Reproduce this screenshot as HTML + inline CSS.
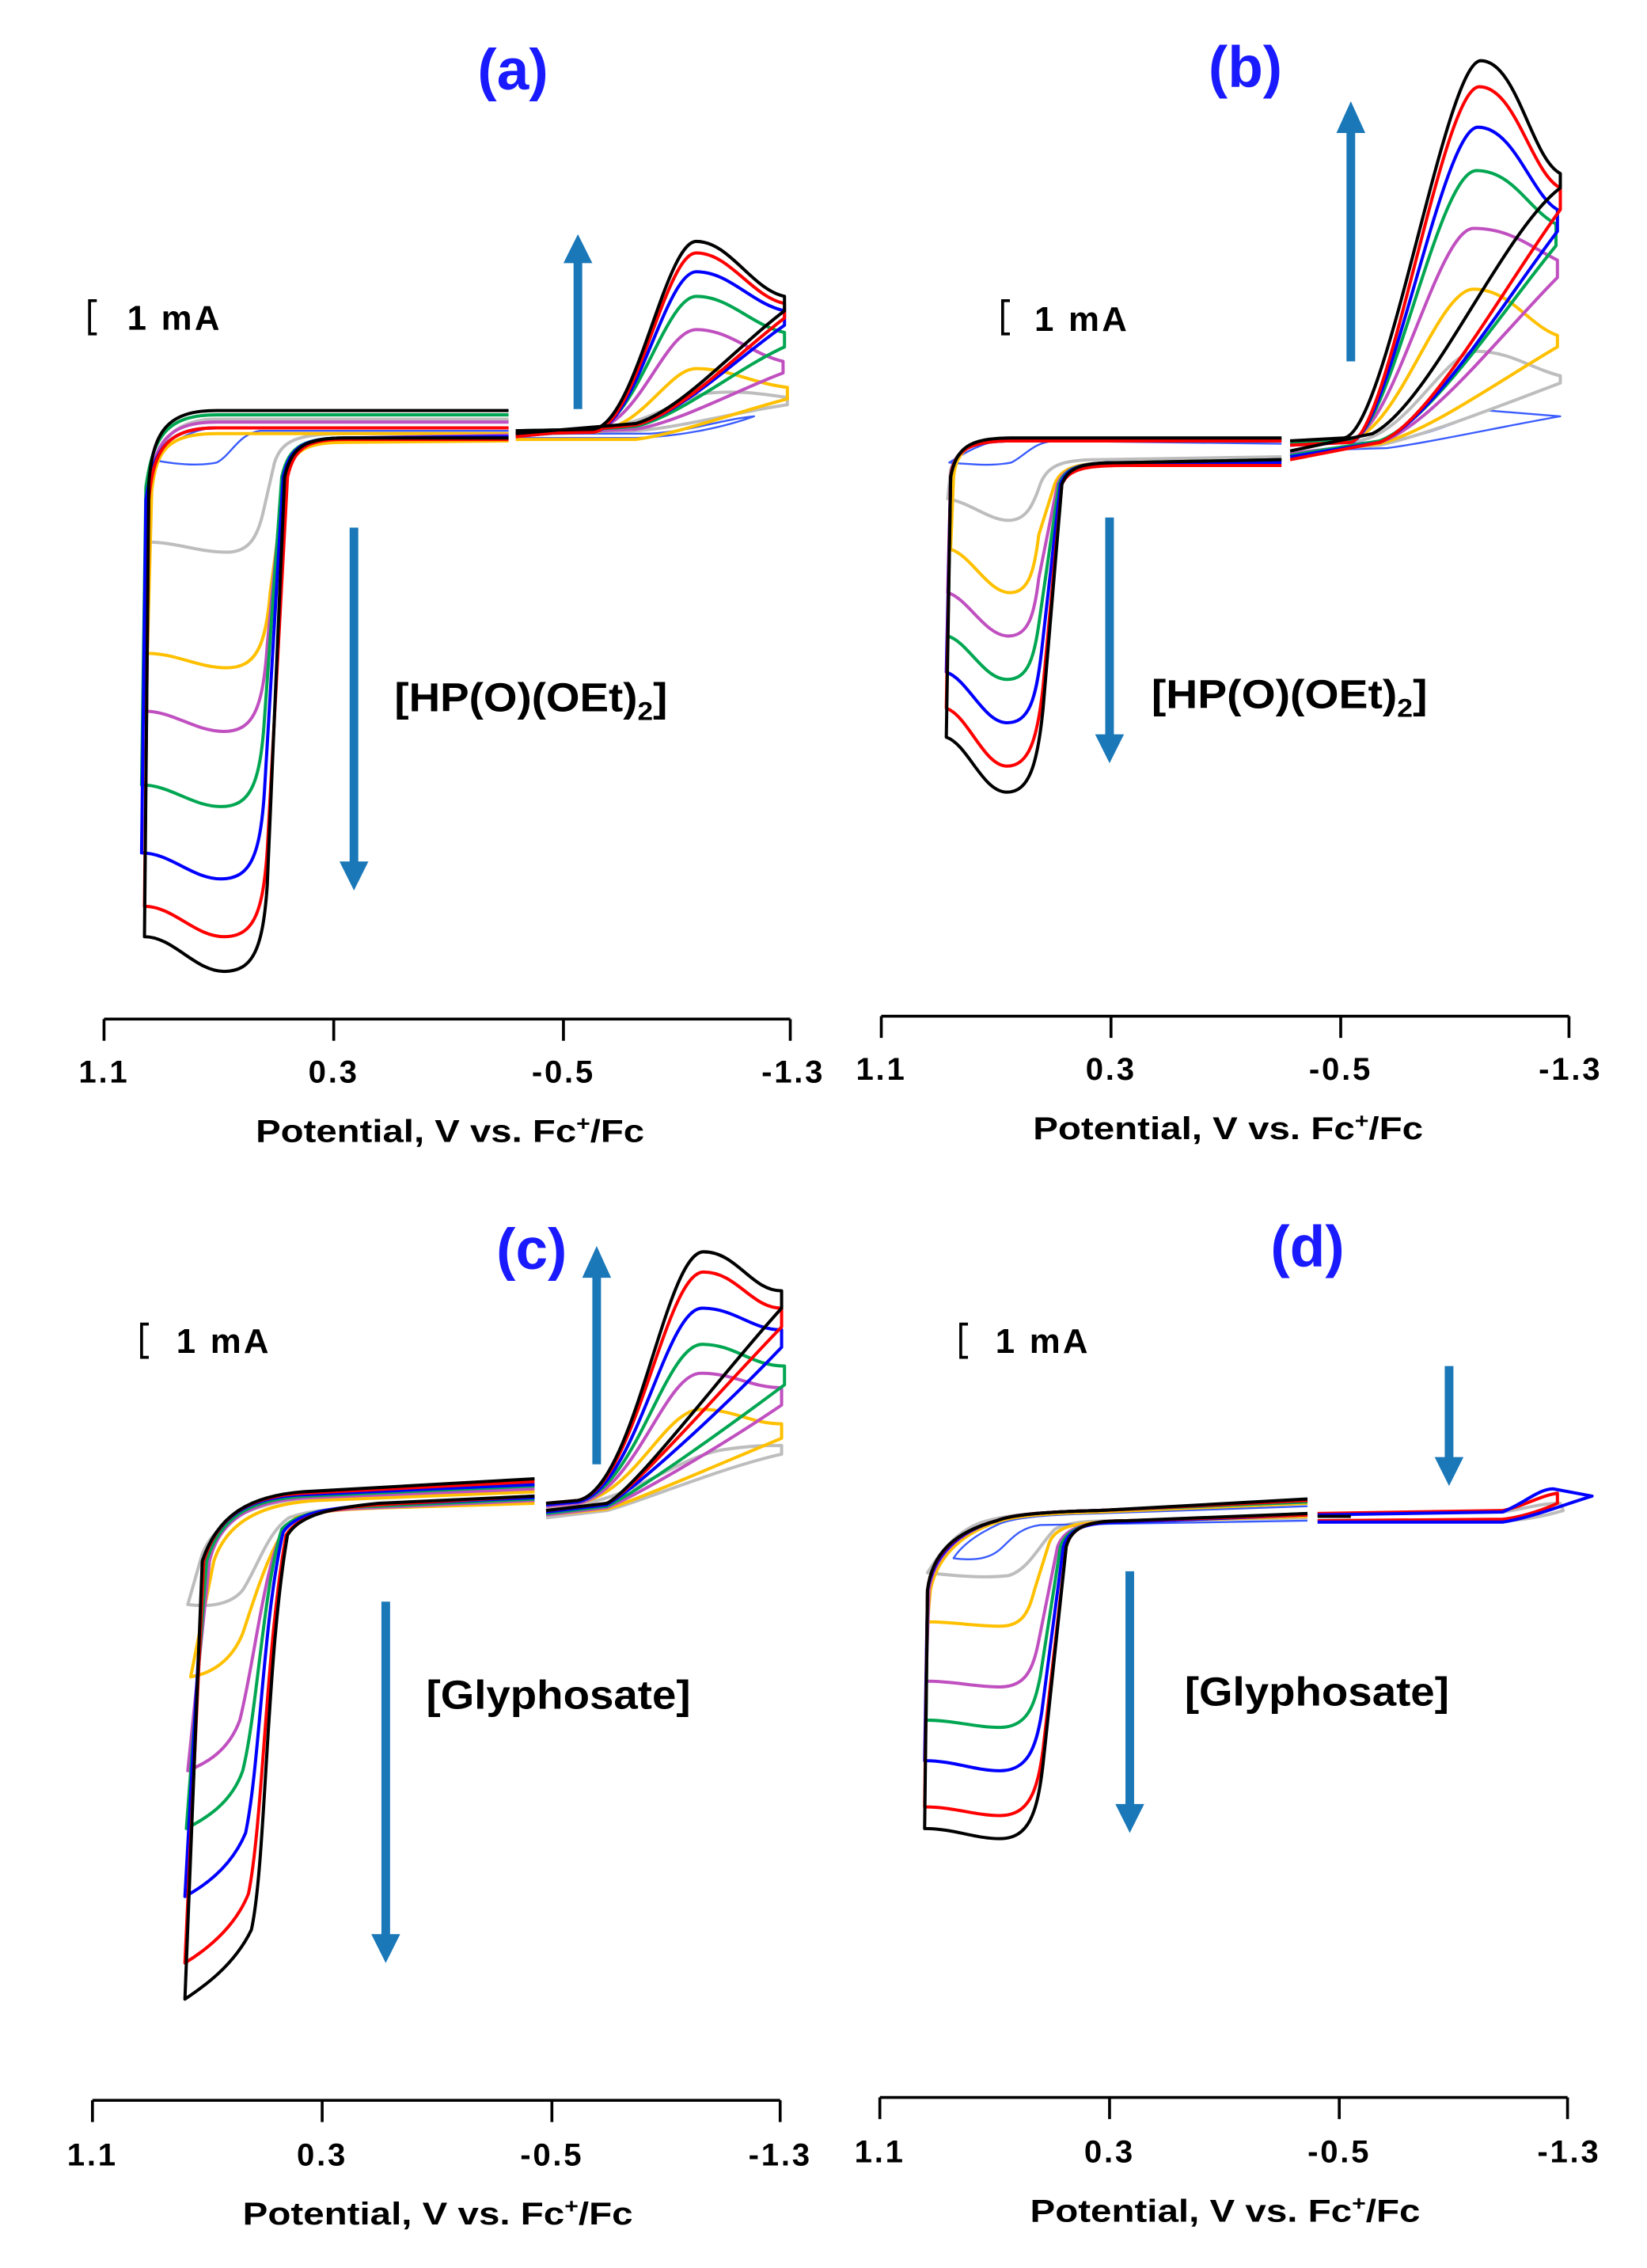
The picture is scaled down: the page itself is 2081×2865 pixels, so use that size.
<!DOCTYPE html>
<html><head><meta charset="utf-8"><style>
html,body{margin:0;padding:0;background:#fff;}
svg{display:block;}
text{font-family:"Liberation Sans",Arial,sans-serif;font-weight:bold;}
.c path{fill:none;stroke-width:2.2;stroke-linejoin:round;}
.k{stroke:#000}.r{stroke:#f00}.b{stroke:#00f}.g{stroke:#00a651}.p{stroke:#c050c0}.y{stroke:#ffc000}.s{stroke:#bdbdbd}.t{stroke:#3a5cff;stroke-width:1.3!important}
.ax{stroke:#000;stroke-width:2;fill:none}
.ar{stroke:#1a78b8;stroke-width:6}
.ah{fill:#1a78b8}
.tk{letter-spacing:1.5px}
</style></head><body>
<svg width="2081" height="2865" viewBox="0 0 1140 1569" preserveAspectRatio="none" xmlns="http://www.w3.org/2000/svg">
<rect width="1140" height="1569" fill="#fff"/>

<!-- ===== Panel a ===== -->
<text x="355" y="62" font-size="40" fill="#1a1aff" text-anchor="middle">(a)</text>
<path class="ax" d="M67,208 L62,208 L62,231 L67,231"/>
<text x="88" y="228" font-size="24" textLength="64">1 mA</text>
<text x="273" y="492" font-size="28" textLength="189" lengthAdjust="spacingAndGlyphs">[HP(O)(OEt)<tspan font-size="18" dy="6">2</tspan><tspan dy="-6">]</tspan></text>
<path class="ax" d="M72,705 L547,705 M72,705 L72,720 M231,705 L231,720 M390,705 L390,720 M547,705 L547,720"/>
<g font-size="22" text-anchor="middle" class="tk"><text x="72" y="749">1.1</text><text x="231" y="749">0.3</text><text x="390" y="749">-0.5</text><text x="549" y="749">-1.3</text></g>
<text x="177" y="790" font-size="22" textLength="269" lengthAdjust="spacingAndGlyphs">Potential, V vs. Fc<tspan font-size="14" dy="-8">+</tspan><tspan dy="8">/Fc</tspan></text>
<line class="ar" x1="400" y1="283" x2="400" y2="180"/><polygon class="ah" points="390,182 410,182 400,162"/>
<line class="ar" x1="245" y1="365" x2="245" y2="598"/><polygon class="ah" points="235,596 255,596 245,616"/>
<g class="c">
<path class="s" d="M352,290 L150,290 C120,290 110,305 105,330 L102,375 C122,375 137,382 157,382 C172,382 178,372 182,355 L190,320 C195,305 205,300 240,300 L352,300"/>
<path class="t" d="M352,296 L150,296 C130,296 115,310 105,318 C125,322 140,322 150,320 C160,315 165,300 180,298 L352,298"/>
<path class="y" d="M352,300 L150,300 C115,300 108,312 105,340 L102,452 C122,452 137,462 157,462 C177,462 184,447 187,410 L198,330 C203,310 213,306 240,306 L352,305"/>
<path class="p" d="M352,292 L150,292 C115,292 106,307 103,342 L100,492 C120,492 135,506 155,506 C175,506 182,491 185,446 L196,330 C201,308 211,303 240,303 L352,301"/>
<path class="g" d="M352,287 L150,287 C115,287 106,302 101,337 L98,543 C118,543 133,558 153,558 C173,558 180,543 183,498 L195,330 C200,308 210,303 240,303 L352,302"/>
<path class="b" d="M352,296 L150,296 C115,296 106,311 101,346 L98,590 C118,590 133,608 153,608 C173,608 180,593 183,548 L196,330 C201,308 211,303 240,303 L352,302"/>
<path class="r" d="M352,296 L150,296 C115,296 106,311 103,346 L100,627 C120,627 135,648 155,648 C175,648 182,633 185,588 L199,330 C204,308 214,304 240,304 L352,304"/>
<path class="k" d="M352,284 L150,284 C115,284 106,299 103,334 L100,648 C120,648 135,672 155,672 C175,672 182,657 185,612 L197,330 C202,308 212,303 240,303 L352,303"/>
<path class="s" d="M357,298 L410,297 C450,294 470,275 490,272 C510,270 525,272 545,275 L545,280 C510,285 470,296 440,298 L357,301"/>
<path class="t" d="M357,300 L450,300 C480,298 500,290 522,288 C500,296 470,302 440,303 L357,303"/>
<path class="y" d="M357,300 L410,299 C445,297 462,255 482,255 C505,255 520,265 545,268 L545,276 C510,285 470,300 440,304 L357,304"/>
<path class="p" d="M357,298 L410,297 C442,295 460,228 482,228 C505,228 520,245 542,250 L542,258 C510,270 470,292 440,297 L357,300"/>
<path class="g" d="M357,298 L410,297 C440,295 460,205 482,205 C505,205 520,225 543,230 L543,240 C510,255 470,288 440,295 L357,301"/>
<path class="b" d="M357,300 L410,299 C440,297 460,188 482,188 C505,188 520,210 543,215 L543,225 C510,248 470,287 440,294 L357,302"/>
<path class="r" d="M357,300 L410,299 C440,297 460,175 482,175 C505,175 520,205 543,210 L543,220 C510,245 470,287 440,294 L357,302"/>
<path class="k" d="M357,298 L410,297 C440,295 460,167 482,167 C505,167 520,200 543,205 L543,215 C510,240 470,285 440,293 L357,300"/>
</g>

<!-- ===== Panel b ===== -->
<text x="862" y="60" font-size="40" fill="#1a1aff" text-anchor="middle">(b)</text>
<path class="ax" d="M699,208 L694,208 L694,231 L699,231"/>
<text x="716" y="229" font-size="24" textLength="64">1 mA</text>
<text x="797" y="490" font-size="28" textLength="191" lengthAdjust="spacingAndGlyphs">[HP(O)(OEt)<tspan font-size="18" dy="6">2</tspan><tspan dy="-6">]</tspan></text>
<path class="ax" d="M610,703 L1086,703 M610,703 L610,718 M769,703 L769,718 M928,703 L928,718 M1086,703 L1086,718"/>
<g font-size="22" text-anchor="middle" class="tk"><text x="610" y="747">1.1</text><text x="769" y="747">0.3</text><text x="928" y="747">-0.5</text><text x="1087" y="747">-1.3</text></g>
<text x="715" y="788" font-size="22" textLength="270" lengthAdjust="spacingAndGlyphs">Potential, V vs. Fc<tspan font-size="14" dy="-8">+</tspan><tspan dy="8">/Fc</tspan></text>
<line class="ar" x1="935" y1="250" x2="935" y2="90"/><polygon class="ah" points="925,92 945,92 935,70"/>
<line class="ar" x1="768" y1="358" x2="768" y2="510"/><polygon class="ah" points="758,508 778,508 768,528"/>
<g class="c">
<path class="s" d="M887,303 L700,303 C672,303 662,312 658,325 L656,345 C672,348 685,360 698,360 C710,360 715,350 720,335 C725,322 735,318 760,318 L887,316"/>
<path class="t" d="M887,303 L700,303 C680,305 665,315 657,320 C680,322 690,322 700,320 C710,315 715,306 730,305 L887,307"/>
<path class="y" d="M887,304 L700,304 C670,304 662,312 660,330 L658,380 C672,384 684,410 699,410 C712,410 716,395 719,370 L730,335 C735,322 748,320 780,320 L887,318"/>
<path class="p" d="M887,304 L700,304 C670,304 660,312 658,330 L656,410 C670,414 682,440 698,440 C712,440 716,425 719,400 L732,335 C737,322 750,320 780,320 L887,318"/>
<path class="g" d="M887,304 L700,304 C670,304 660,312 658,330 L656,440 C670,444 681,470 697,470 C712,470 716,455 720,425 L733,335 C738,322 750,320 780,320 L887,318"/>
<path class="b" d="M887,305 L700,305 C670,305 660,312 658,330 L655,465 C670,470 681,500 697,500 C712,500 717,485 721,450 L734,335 C739,322 750,320 780,320 L887,320"/>
<path class="r" d="M887,305 L700,305 C670,305 660,312 658,330 L655,490 C670,495 681,530 697,530 C712,530 718,512 722,475 L735,335 C740,324 752,322 780,322 L887,322"/>
<path class="k" d="M887,303 L700,303 C670,303 662,310 658,330 L655,510 C670,515 680,548 697,548 C712,548 718,530 722,490 L735,335 C740,322 750,320 780,320 L887,318"/>
<path class="t" d="M893,307 L950,306 C990,303 1010,290 1030,284 L1080,288 C1040,295 990,306 960,310 L893,312"/>
<path class="s" d="M893,306 L940,305 C975,300 1000,243 1022,243 C1045,243 1060,255 1080,260 L1080,265 C1040,280 990,300 955,308 L893,313"/>
<path class="y" d="M893,306 L935,304 C968,298 995,200 1020,200 C1045,200 1058,225 1078,232 L1078,240 C1040,262 990,298 955,307 L893,314"/>
<path class="p" d="M893,306 L935,304 C965,298 995,158 1020,158 C1045,158 1058,170 1078,180 L1078,192 C1040,230 990,295 955,306 L893,314"/>
<path class="g" d="M893,307 L935,305 C963,299 995,118 1022,118 C1047,118 1058,145 1077,155 L1077,170 C1040,215 990,292 955,305 L893,315"/>
<path class="b" d="M893,308 L935,306 C962,300 998,88 1023,88 C1048,88 1060,135 1078,145 L1078,160 C1040,210 990,292 955,306 L893,316"/>
<path class="r" d="M893,308 L935,306 C962,300 998,60 1024,60 C1049,60 1060,120 1080,130 L1080,145 C1040,200 990,292 955,306 L893,318"/>
<path class="k" d="M893,305 L930,303 C960,300 1000,42 1025,42 C1050,42 1060,110 1080,120 L1080,130 C1040,160 990,280 950,300 L893,312"/>
</g>

<!-- ===== Panel c ===== -->
<text x="368" y="878" font-size="40" fill="#1a1aff" text-anchor="middle">(c)</text>
<path class="ax" d="M103,916 L98,916 L98,939 L103,939"/>
<text x="122" y="936" font-size="24" textLength="64">1 mA</text>
<text x="295" y="1182" font-size="28" textLength="183" lengthAdjust="spacingAndGlyphs">[Glyphosate]</text>
<path class="ax" d="M64,1453 L540,1453 M64,1453 L64,1468 M223,1453 L223,1468 M382,1453 L382,1468 M540,1453 L540,1468"/>
<g font-size="22" text-anchor="middle" class="tk"><text x="64" y="1498">1.1</text><text x="223" y="1498">0.3</text><text x="382" y="1498">-0.5</text><text x="540" y="1498">-1.3</text></g>
<text x="168" y="1539" font-size="22" textLength="270" lengthAdjust="spacingAndGlyphs">Potential, V vs. Fc<tspan font-size="14" dy="-8">+</tspan><tspan dy="8">/Fc</tspan></text>
<line class="ar" x1="413" y1="1013" x2="413" y2="882"/><polygon class="ah" points="403,884 423,884 413,862"/>
<line class="ar" x1="267" y1="1108" x2="267" y2="1340"/><polygon class="ah" points="257,1338 277,1338 267,1358"/>
<g class="c">
<path class="s" d="M370,1030 L220,1036 C180,1038 150,1050 140,1075 L130,1110 C145,1112 160,1110 168,1100 C178,1085 185,1060 200,1050 C215,1044 240,1043 270,1042 L370,1038"/>
<path class="y" d="M370,1032 L220,1038 C185,1040 158,1050 148,1080 L132,1160 C145,1158 160,1150 168,1130 C178,1100 190,1060 205,1050 C220,1045 240,1044 270,1043 L370,1040"/>
<path class="p" d="M370,1030 L215,1036 C175,1038 152,1050 145,1080 L130,1225 C142,1220 158,1212 166,1190 C176,1150 182,1090 195,1060 C205,1046 230,1044 260,1043 L370,1038"/>
<path class="g" d="M370,1028 L212,1035 C172,1037 152,1050 143,1080 L129,1265 C142,1258 160,1248 168,1225 C178,1185 182,1100 195,1058 C205,1046 230,1043 260,1042 L370,1037"/>
<path class="b" d="M370,1027 L210,1034 C170,1036 150,1050 141,1080 L128,1312 C141,1305 160,1292 170,1268 C180,1220 182,1120 196,1060 C205,1046 230,1043 260,1041 L370,1036"/>
<path class="r" d="M370,1025 L210,1033 C170,1035 150,1050 141,1080 L128,1358 C141,1350 162,1335 172,1310 C182,1260 184,1140 198,1062 C207,1047 232,1043 262,1041 L370,1035"/>
<path class="k" d="M370,1023 L210,1032 C170,1035 150,1050 140,1080 L128,1383 C140,1375 162,1360 174,1335 C184,1290 184,1150 199,1062 C208,1047 232,1043 262,1040 L370,1035"/>
<path class="s" d="M378,1043 L400,1041 C440,1035 470,1008 500,1003 C520,1000 530,1000 541,1000 L541,1006 C500,1015 440,1040 420,1045 L378,1050"/>
<path class="y" d="M378,1042 L400,1040 C440,1033 460,975 485,975 C508,975 520,985 541,985 L541,995 C500,1012 440,1038 420,1044 L378,1048"/>
<path class="p" d="M378,1042 L400,1040 C440,1032 460,950 485,950 C508,950 520,960 541,960 L541,972 C500,1000 440,1035 420,1043 L378,1048"/>
<path class="g" d="M378,1041 L400,1039 C440,1031 460,930 486,930 C509,930 520,945 543,945 L543,958 C500,990 440,1033 420,1042 L378,1047"/>
<path class="b" d="M378,1041 L400,1039 C440,1031 460,905 486,905 C509,905 520,920 541,920 L541,932 C500,975 440,1030 420,1041 L378,1046"/>
<path class="r" d="M378,1040 L400,1038 C440,1030 460,880 487,880 C510,880 520,905 541,905 L541,918 C500,960 440,1030 420,1040 L378,1045"/>
<path class="k" d="M378,1040 L400,1038 C440,1030 460,866 487,866 C510,866 520,893 541,893 L541,905 C500,950 440,1030 420,1040 L378,1045"/>
</g>

<!-- ===== Panel d ===== -->
<text x="905" y="876" font-size="40" fill="#1a1aff" text-anchor="middle">(d)</text>
<path class="ax" d="M670,916 L665,916 L665,939 L670,939"/>
<text x="689" y="936" font-size="24" textLength="64">1 mA</text>
<text x="820" y="1180" font-size="28" textLength="183" lengthAdjust="spacingAndGlyphs">[Glyphosate]</text>
<path class="ax" d="M609,1451 L1085,1451 M609,1451 L609,1466 M768,1451 L768,1466 M927,1451 L927,1466 M1085,1451 L1085,1466"/>
<g font-size="22" text-anchor="middle" class="tk"><text x="609" y="1496">1.1</text><text x="768" y="1496">0.3</text><text x="927" y="1496">-0.5</text><text x="1086" y="1496">-1.3</text></g>
<text x="713" y="1537" font-size="22" textLength="270" lengthAdjust="spacingAndGlyphs">Potential, V vs. Fc<tspan font-size="14" dy="-8">+</tspan><tspan dy="8">/Fc</tspan></text>
<line class="ar" x1="1003" y1="945" x2="1003" y2="1010"/><polygon class="ah" points="993,1008 1013,1008 1003,1028"/>
<line class="ar" x1="782" y1="1087" x2="782" y2="1250"/><polygon class="ah" points="772,1248 792,1248 782,1268"/>
<g class="c">
<path class="s" d="M905,1040 L760,1045 C720,1046 690,1048 675,1055 C660,1062 650,1075 642,1088 C660,1090 680,1092 698,1090 C712,1086 720,1068 730,1058 C740,1052 760,1052 780,1052 L905,1050"/>
<path class="t" d="M905,1042 L760,1047 C720,1048 700,1050 690,1055 C675,1062 665,1070 660,1078 C675,1080 685,1078 692,1072 C700,1065 705,1057 720,1055 L905,1052"/>
<path class="y" d="M905,1040 L760,1046 C720,1047 700,1049 690,1053 C662,1062 648,1080 644,1100 L642,1122 C660,1122 675,1125 692,1125 C708,1125 712,1115 716,1100 L726,1068 C730,1056 745,1053 770,1053 L905,1049"/>
<path class="p" d="M905,1039 L760,1045 C720,1046 700,1048 690,1052 C662,1060 646,1078 643,1100 L641,1163 C660,1163 675,1167 692,1167 C710,1167 715,1155 719,1135 L732,1070 C737,1056 752,1053 775,1053 L905,1048"/>
<path class="g" d="M905,1039 L760,1045 C720,1046 700,1048 690,1052 C661,1060 646,1077 642,1100 L641,1190 C660,1190 675,1195 692,1195 C711,1195 716,1180 720,1160 L734,1070 C739,1056 753,1053 778,1053 L905,1047"/>
<path class="b" d="M905,1038 L760,1045 C720,1046 700,1048 690,1052 C661,1060 646,1077 642,1100 L640,1218 C660,1218 675,1225 692,1225 C711,1225 717,1210 721,1185 L736,1070 C740,1056 754,1053 779,1053 L905,1048"/>
<path class="r" d="M905,1038 L760,1045 C720,1046 700,1048 690,1052 C660,1060 645,1076 642,1100 L640,1250 C660,1250 675,1256 692,1256 C712,1256 718,1240 722,1210 L738,1070 C742,1055 755,1052 780,1052 L905,1048"/>
<path class="k" d="M905,1037 L760,1045 C720,1046 700,1048 690,1052 C660,1060 645,1075 642,1100 L640,1265 C660,1265 675,1272 692,1272 C712,1272 718,1255 722,1220 L738,1070 C742,1055 755,1052 780,1052 L905,1047"/>
<path class="s" d="M912,1047 L1040,1046 C1055,1044 1065,1040 1080,1040 L1082,1045 C1065,1050 1050,1052 1040,1052 L912,1053"/>
<path class="r" d="M912,1047 L1040,1045 C1055,1042 1065,1035 1078,1033 L1078,1040 C1065,1046 1050,1050 1040,1051 L912,1052"/>
<path class="b" d="M912,1048 L1040,1046 C1055,1040 1065,1030 1075,1030 L1102,1035 C1085,1040 1060,1050 1040,1053 L912,1053"/>
<path class="k" d="M912,1049 L935,1049"/>
</g>
</svg>
</body></html>
